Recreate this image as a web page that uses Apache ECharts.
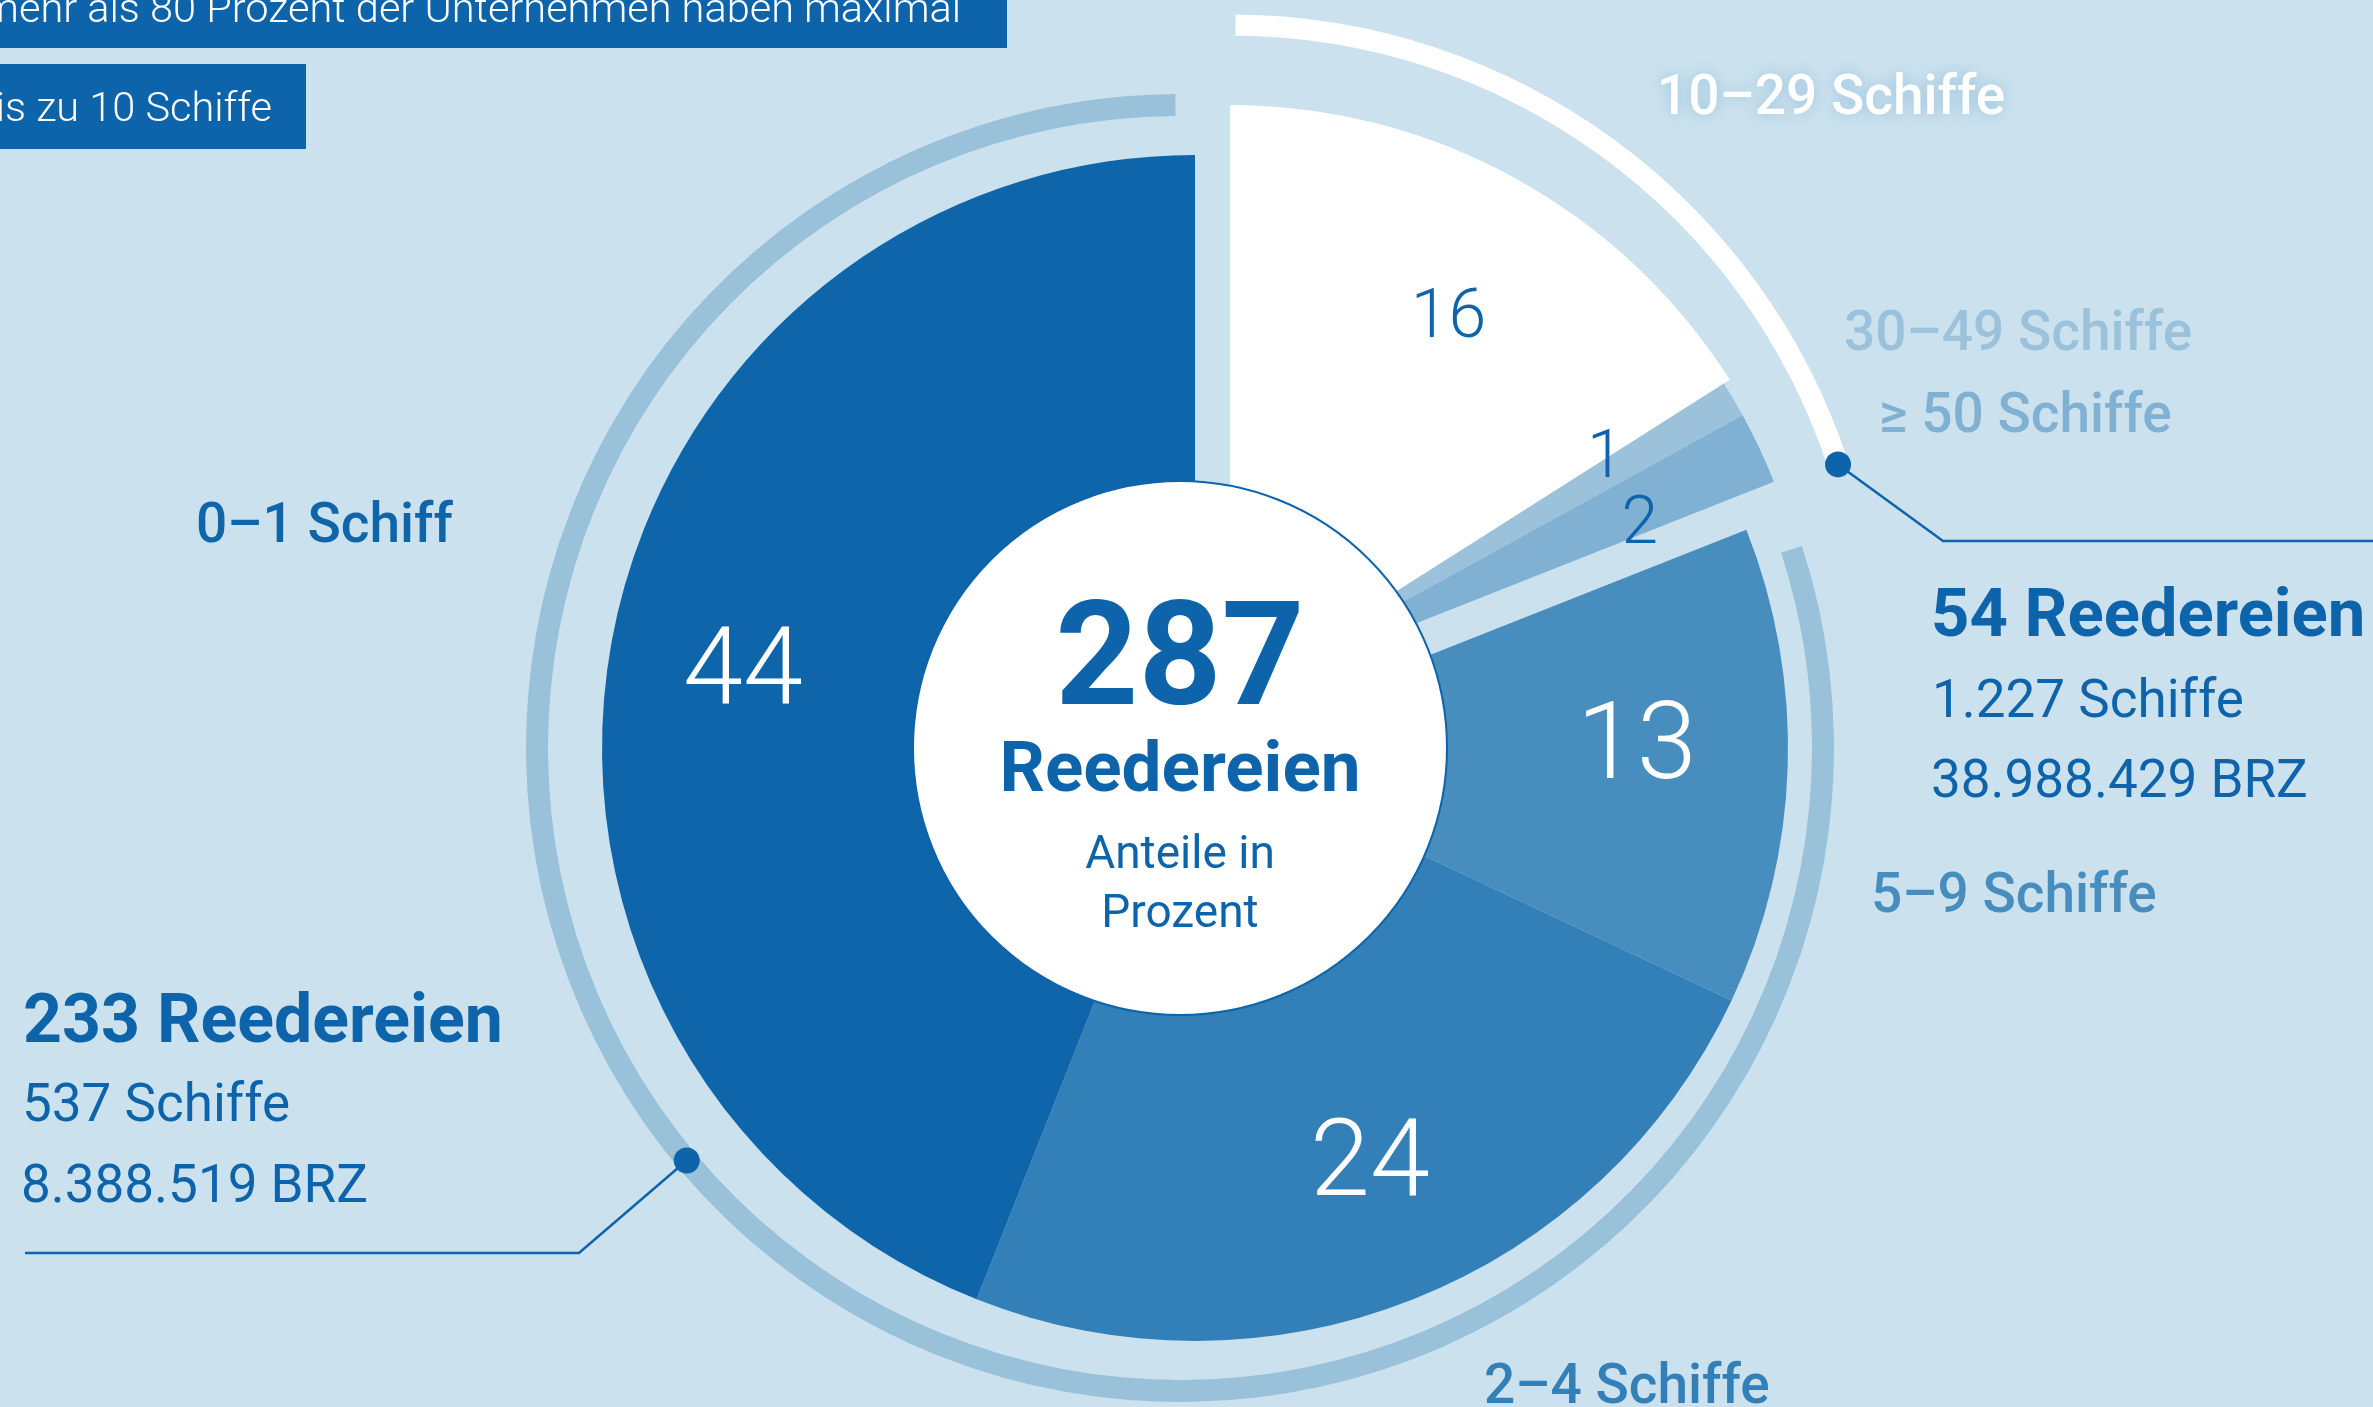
<!DOCTYPE html>
<html lang="de">
<head>
<meta charset="utf-8">
<title>Reedereien nach Flottengröße</title>
<script src="https://cdn.jsdelivr.net/npm/echarts@6/dist/echarts.min.js"></script>
<style>
  html, body { margin: 0; padding: 0; background: #cbe2ee; }
  #chart { width: 2373px; height: 1407px; }
</style>
</head>
<body>
<div id="chart"></div>
<script>
// Anteile der Reedereien nach Flottengröße in Prozent, im Uhrzeigersinn ab 12 Uhr
const categories = ["10–29 Schiffe", "30–49 Schiffe", "≥ 50 Schiffe", "5–9 Schiffe", "2–4 Schiffe", "0–1 Schiff"];
const shares = [16, 1, 2, 13, 24, 44];
const sliceColors = ["#ffffff", "#9bc2da", "#80b1d3", "#478dbd", "#3380b8", "#0f65aa"];
// true = Segment gehört zur Gruppe "ab 10 Schiffe" (herausgezogen)
const bigFleet = [true, true, true, false, false, false];

// Summen je Gruppe: [ab 10 Schiffe, bis 9 Schiffe]
const groupCompanies = [54, 233];
const groupShips = [1227, 537];
const groupTonnage = [38988429, 8388519];

const headline = ["mehr als 80 Prozent der Unternehmen haben maximal", "bis zu 10 Schiffe"];

const DARK = "#0e64aa";
const FONT = "Roboto, 'Noto Sans', sans-serif";
const TRANSPARENT = "rgba(0,0,0,0)";

const pieCenter = [1195, 748];
const pieCenterOut = [1230, 697];
const lightRing = { center: [1180, 748], r: 643, width: 22, from: 72, to: 359.6, color: "#99c1d9" };
const whiteRing = { center: [1231, 664], r: 639, width: 21, from: 0.4, to: 71.8, color: "#ffffff" };

const fmt = n => String(n).replace(/\B(?=(\d{3})+(?!\d))/g, ".");

const polar = (c, r, deg) => {
  const a = deg * Math.PI / 180;
  return [c[0] + r * Math.sin(a), c[1] - r * Math.cos(a)];
};

const base = {
  type: "pie",
  silent: true,
  startAngle: 90,
  clockwise: true,
  label: { show: false },
  labelLine: { show: false },
  emphasis: { disabled: true }
};

// gefuellte Segmente, nur die ausgewaehlten sichtbar
const sliceLayer = (center, radius, pick) => Object.assign({}, base, {
  center,
  radius: [0, radius],
  data: categories.map((name, i) => ({
    name,
    value: shares[i],
    itemStyle: { color: pick(i) ? sliceColors[i] : TRANSPARENT }
  }))
});

// padding (oben, rechts, unten, links) schiebt die Zahl etwas aus der Segmentmitte
const labelStyle = [
  { color: DARK, size: 68, padding: [30, 0, 0, 6] },
  { color: DARK, size: 66, padding: [0, 20, 18, 0] },
  { color: DARK, size: 66, padding: [40, 0, 0, 10] },
  { color: "#fff", size: 108, padding: [0, 12, 22, 0] },
  { color: "#fff", size: 108, padding: [6, 0, 0, 20] },
  { color: "#fff", size: 108, padding: [24, 24, 0, 0] }
];

// unsichtbarer Ring nur fuer die Zahlen in den Segmenten
const labelLayer = (center, radius, pick) => Object.assign({}, base, {
  center,
  radius: [297, radius],
  itemStyle: { color: TRANSPARENT },
  data: categories.map((name, i) => ({
    name,
    value: shares[i],
    label: {
      show: pick(i),
      position: "inside",
      formatter: "{v|{c}}",
      padding: labelStyle[i].padding,
      rich: {
        v: {
          color: labelStyle[i].color,
          fontSize: labelStyle[i].size,
          fontFamily: FONT,
          fontWeight: 300
        }
      }
    }
  }))
});

const arc = ring => {
  const span = ring.to - ring.from;
  return Object.assign({}, base, {
    center: ring.center,
    radius: [ring.r - ring.width / 2, ring.r + ring.width / 2],
    startAngle: 90 - ring.from,
    data: [
      { value: span, itemStyle: { color: ring.color } },
      { value: 360 - span, itemStyle: { color: TRANSPARENT } }
    ]
  });
};

const txt = (text, x, y, size, weight, color, align, extra) => ({
  type: "text",
  z: 20,
  style: Object.assign({
    text, x,
    y: y + size * 0.11,
    fill: color,
    fontSize: size,
    fontWeight: weight,
    fontFamily: FONT,
    align: align || "left",
    textAlign: align || "left",
    verticalAlign: "middle",
    textVerticalAlign: "middle"
  }, extra || {})
});

const dotRight = polar(whiteRing.center, whiteRing.r, whiteRing.to);
const dotLeft = polar(lightRing.center, lightRing.r, 230.1);
const total = groupCompanies.reduce((a, b) => a + b, 0);

const myChart = echarts.init(document.getElementById("chart"));

const option = {
  backgroundColor: "#cbe2ee",
  animation: false,
  series: [
    arc(lightRing),
    arc(whiteRing),
    sliceLayer(pieCenter, 593, i => !bigFleet[i]),
    sliceLayer(pieCenterOut, 592, i => i === 0),
    sliceLayer(pieCenterOut, 585, i => bigFleet[i] && i !== 0),
    labelLayer(pieCenter, 593, i => !bigFleet[i]),
    labelLayer(pieCenterOut, 592, i => bigFleet[i])
  ],
  graphic: [
    // Kasten oben links
    { type: "rect", z: 15, shape: { x: -10, y: -10, width: 1017, height: 58 }, style: { fill: DARK } },
    { type: "rect", z: 15, shape: { x: -10, y: 64, width: 316, height: 85 }, style: { fill: DARK } },
    txt(headline[0], 961, 7, 41.5, 300, "#fff", "right"),
    txt(headline[1], 272, 106, 41.5, 300, "#fff", "right"),

    // Kreis in der Mitte
    { type: "circle", z: 12, shape: { cx: 1180, cy: 748, r: 267 }, style: { fill: "#fff", stroke: DARK, lineWidth: 2 } },
    txt(String(total), 1180, 652, 145, 700, DARK, "center"),
    txt("Reedereien", 1180, 765, 71, 700, DARK, "center"),
    txt("Anteile in", 1180, 851, 46, 400, DARK, "center"),
    txt("Prozent", 1180, 910, 46, 400, DARK, "center"),

    // Kategorienamen
    txt(categories[0], 1657, 94, 55, 500, sliceColors[0], "left", {
      textShadowColor: "rgba(90,150,195,0.45)", textShadowBlur: 14
    }),
    txt(categories[1], 1844, 330, 55, 500, sliceColors[1]),
    txt(categories[2], 1879, 412, 55, 500, sliceColors[2]),
    txt(categories[3], 1871, 892, 55, 500, sliceColors[3]),
    txt(categories[4], 1484, 1383, 55, 500, sliceColors[4]),
    txt(categories[5], 196, 522, 55, 500, sliceColors[5]),

    // Hinweislinien mit Punkt
    { type: "polyline", z: 14, shape: { points: [dotRight, [1943, 541], [2373, 541]] }, style: { stroke: DARK, lineWidth: 2.5, fill: null } },
    { type: "circle", z: 14, shape: { cx: dotRight[0], cy: dotRight[1], r: 13 }, style: { fill: DARK } },
    { type: "polyline", z: 14, shape: { points: [dotLeft, [579, 1253], [25, 1253]] }, style: { stroke: DARK, lineWidth: 2.5, fill: null } },
    { type: "circle", z: 14, shape: { cx: dotLeft[0], cy: dotLeft[1], r: 13 }, style: { fill: DARK } },

    // Gruppensummen
    txt(groupCompanies[0] + " Reedereien", 1931, 612, 67, 700, DARK),
    txt(fmt(groupShips[0]) + " Schiffe", 1932, 698, 53, 400, DARK),
    txt(fmt(groupTonnage[0]) + " BRZ", 1931, 778, 53, 400, DARK),
    txt(groupCompanies[1] + " Reedereien", 23, 1018, 68, 700, DARK),
    txt(fmt(groupShips[1]) + " Schiffe", 22, 1102, 53, 400, DARK),
    txt(fmt(groupTonnage[1]) + " BRZ", 21, 1183, 53, 400, DARK)
  ]
};

option && myChart.setOption(option);
</script>
</body>
</html>
